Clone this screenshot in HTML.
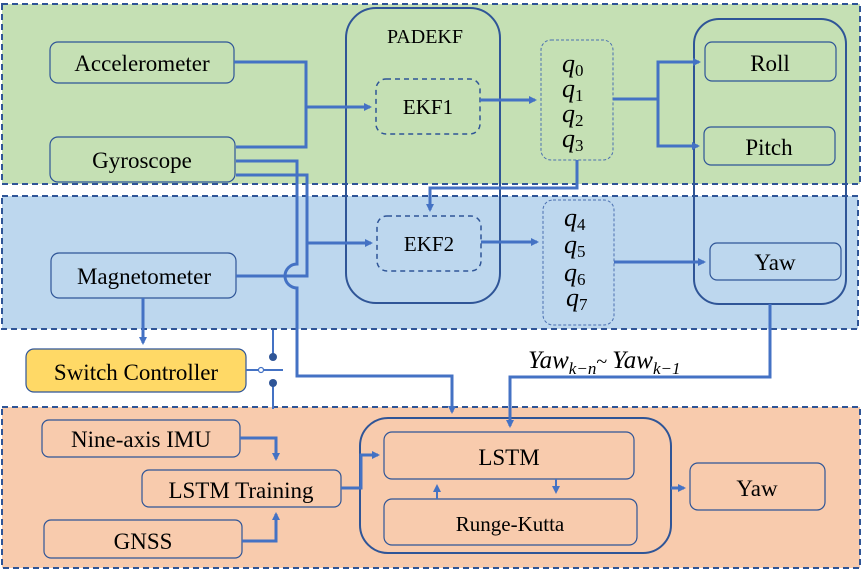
<!DOCTYPE html>
<html><head><meta charset="utf-8"><style>body{margin:0;background:#fff}svg{display:block}</style></head><body>
<svg width="864" height="572" viewBox="0 0 864 572" xmlns="http://www.w3.org/2000/svg">
<defs><marker id="a" markerWidth="8" markerHeight="8" refX="6" refY="4" orient="auto" markerUnits="userSpaceOnUse"><path d="M0,0 L8,4 L0,8 z" fill="#4472c4"/></marker></defs>
<rect x="2" y="4" width="858" height="180" fill="#c5e0b4" stroke="#2f5597" stroke-width="2" stroke-dasharray="6,4"/>
<rect x="2" y="196" width="856" height="133" fill="#bdd7ee" stroke="#2f5597" stroke-width="2" stroke-dasharray="6,4"/>
<rect x="2" y="407" width="858" height="161" fill="#f8cbad" stroke="#2f5597" stroke-width="2" stroke-dasharray="6,4"/>
<g fill="none" stroke="#2f5597" stroke-width="2">
<rect x="346" y="8" width="154" height="295" rx="30"/>
<rect x="694" y="19" width="152" height="285" rx="25"/>
<rect x="360" y="418" width="311" height="135" rx="28"/>
</g>
<g fill="none" stroke="#2f5597" stroke-width="1.5" stroke-dasharray="5,4">
<rect x="376" y="79" width="104" height="55" rx="10"/>
<rect x="377" y="216" width="104" height="55" rx="10"/>
</g>
<g fill="none" stroke="#4a6fb0" stroke-width="1" stroke-dasharray="3,2">
<rect x="541" y="40" width="72" height="120" rx="10"/>
<rect x="543" y="200" width="71" height="125" rx="10"/>
</g>
<g fill="none" stroke="#2f5597" stroke-width="1.2">
<rect x="50" y="42" width="184" height="41" rx="8"/>
<rect x="50" y="137" width="185" height="45" rx="8"/>
<rect x="51" y="253" width="185" height="45" rx="8"/>
<rect x="705" y="42" width="131" height="39" rx="7"/>
<rect x="704" y="127" width="131" height="38" rx="7"/>
<rect x="710" y="243" width="131" height="37" rx="7"/>
<rect x="42" y="420" width="198" height="37" rx="7"/>
<rect x="142" y="470" width="199" height="37" rx="7"/>
<rect x="44" y="520" width="198" height="38" rx="7"/>
<rect x="384" y="432" width="250" height="47" rx="8"/>
<rect x="384" y="499" width="253" height="46" rx="8"/>
<rect x="690" y="463" width="135" height="47" rx="8"/>
</g>
<rect x="26" y="349" width="220" height="43" rx="8" fill="#ffd966" stroke="#2f5597" stroke-width="1.2"/>
<g fill="none" stroke="#4472c4" stroke-width="3">
<path d="M234,62 H306 V147 H236"/>
<path d="M306,107 H370" marker-end="url(#a)"/>
<path d="M236,161 H297 V264 A12,12 0 0 0 297,288 V376 H452 V412" marker-end="url(#a)"/>
<path d="M236,175 H307 V276 H236"/>
<path d="M307,243 H371" marker-end="url(#a)"/>
<path d="M480,100 H535" marker-end="url(#a)"/>
<path d="M481,242 H537" marker-end="url(#a)"/>
<path d="M577,160 V188 H430 V210" marker-end="url(#a)"/>
<path d="M613,99 H658 V62 H699" marker-end="url(#a)"/>
<path d="M658,99 V146 H698" marker-end="url(#a)"/>
<path d="M614,262 H704" marker-end="url(#a)"/>
<path d="M770,304 V377 H510 V426" marker-end="url(#a)"/>
<path d="M143,298 V343" marker-end="url(#a)"/>
<path d="M240,438 H276 V459" marker-end="url(#a)"/>
<path d="M242,541 H276 V514" marker-end="url(#a)"/>
<path d="M341,488 H361 V455 H378" marker-end="url(#a)"/>
<path d="M671,488 H684" marker-end="url(#a)"/>
<path d="M437,499 V486" stroke-width="2" marker-end="url(#a)"/>
<path d="M556,479 V492" stroke-width="2" marker-end="url(#a)"/>
<path d="M246,370 H259 M263,370 H283 M273,330 V357 M273,383 V409" stroke-width="2"/>
</g>
<circle cx="261" cy="370" r="2.5" fill="#fff" stroke="#4472c4" stroke-width="1.2"/>
<circle cx="273" cy="357" r="4" fill="#2f5597"/>
<circle cx="273" cy="383" r="4" fill="#2f5597"/>
<g font-size="23" text-anchor="middle" fill="#000" style="font-family:'Liberation Serif',serif">
<text x="142" y="71">Accelerometer</text>
<text x="142" y="168">Gyroscope</text>
<text x="144" y="284">Magnetometer</text>
<text x="425" y="43" font-size="20">PADEKF</text>
<text x="428" y="114" font-size="21">EKF1</text>
<text x="429" y="251" font-size="21">EKF2</text>
<text x="770" y="71">Roll</text>
<text x="769" y="155">Pitch</text>
<text x="775" y="270">Yaw</text>
<text x="136" y="380">Switch Controller</text>
<text x="141" y="447">Nine-axis IMU</text>
<text x="241" y="498">LSTM Training</text>
<text x="143" y="549">GNSS</text>
<text x="509" y="465">LSTM</text>
<text x="510" y="531" font-size="21">Runge-Kutta</text>
<text x="757" y="496">Yaw</text>
</g>
<g font-size="26" font-style="italic" fill="#000" style="font-family:'Liberation Serif',serif">
<text x="562" y="72">q<tspan font-size="17" dy="4" font-style="normal">0</tspan></text>
<text x="562" y="97">q<tspan font-size="17" dy="4" font-style="normal">1</tspan></text>
<text x="562" y="122">q<tspan font-size="17" dy="4" font-style="normal">2</tspan></text>
<text x="562" y="147">q<tspan font-size="17" dy="4" font-style="normal">3</tspan></text>
<text x="564" y="226">q<tspan font-size="17" dy="4" font-style="normal">4</tspan></text>
<text x="564" y="253">q<tspan font-size="17" dy="4" font-style="normal">5</tspan></text>
<text x="564" y="281">q<tspan font-size="17" dy="4" font-style="normal">6</tspan></text>
<text x="566" y="306">q<tspan font-size="17" dy="4" font-style="normal">7</tspan></text>
<text x="528" y="368" font-size="25">Yaw<tspan font-size="17" dy="6">k−n</tspan><tspan dy="-6" font-style="normal" font-size="20">~ </tspan>Yaw<tspan font-size="17" dy="6">k−1</tspan></text>
</g>
</svg>
</body></html>
